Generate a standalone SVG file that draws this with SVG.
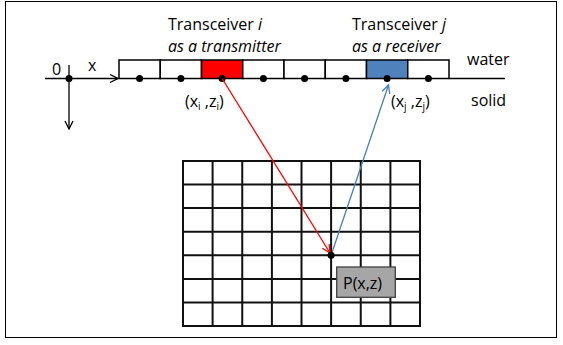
<svg xmlns="http://www.w3.org/2000/svg" width="563" height="345" viewBox="0 0 563 345">
<defs>
<style>
text{font-family:"Open Sans","Liberation Sans",sans-serif;font-size:16px;fill:#000}
.it{font-style:italic}
.cell{fill:#fff;stroke:#000;stroke-width:1.5}
.g{stroke:#111;stroke-width:2;fill:none}
.dot{fill:#000}
</style>
<marker id="ab" markerWidth="10" markerHeight="10" refX="9" refY="5" orient="auto" markerUnits="userSpaceOnUse"><path d="M1,1 L9,5 L1,9" fill="none" stroke="#000" stroke-width="1.3"/></marker>
<marker id="ar" markerWidth="10" markerHeight="10" refX="9" refY="5" orient="auto" markerUnits="userSpaceOnUse"><path d="M1,1 L9,5 L1,9" fill="none" stroke="#f00" stroke-width="1.3"/></marker>
<marker id="abl" markerWidth="10" markerHeight="10" refX="9" refY="5" orient="auto" markerUnits="userSpaceOnUse"><path d="M1,1 L9,5 L1,9" fill="none" stroke="#4a7ebb" stroke-width="1.3"/></marker>
</defs>
<rect x="5.5" y="1.5" width="551" height="336" fill="#fff" stroke="#000" stroke-width="1"/>
<g id="axes">
<line x1="45" y1="78.5" x2="118" y2="78.5" stroke="#000" stroke-width="1.3" marker-end="url(#ab)"/>
<line x1="69" y1="65" x2="69" y2="129" stroke="#000" stroke-width="1.3" marker-end="url(#ab)"/>
<circle class="dot" cx="69" cy="78.5" r="3.5"/>
<text x="52" y="75">0</text>
<text x="88" y="71">x</text>
</g>
<g id="interface">
<line x1="449" y1="78.5" x2="505" y2="78.5" stroke="#000" stroke-width="1.3"/>
<text x="467" y="65">water</text>
<text x="471" y="106">solid</text>
</g>
<g id="transducers">
<rect class="cell" x="119" y="60" width="41.25" height="18.5"/>
<rect class="cell" x="160.25" y="60" width="41.25" height="18.5"/>
<rect class="cell" x="201.5" y="60" width="41.25" height="18.5" style="fill:#f00"/>
<rect class="cell" x="242.75" y="60" width="41.25" height="18.5"/>
<rect class="cell" x="284" y="60" width="41.25" height="18.5"/>
<rect class="cell" x="325.25" y="60" width="41.25" height="18.5"/>
<rect class="cell" x="366.5" y="60" width="41.25" height="18.5" style="fill:#4f81bd"/>
<rect class="cell" x="407.75" y="60" width="41.25" height="18.5"/>
<circle class="dot" cx="139.6" cy="78.5" r="3.5"/>
<circle class="dot" cx="180.9" cy="78.5" r="3.5"/>
<circle class="dot" cx="222.1" cy="78.5" r="3.5"/>
<circle class="dot" cx="263.4" cy="78.5" r="3.5"/>
<circle class="dot" cx="304.6" cy="78.5" r="3.5"/>
<circle class="dot" cx="345.9" cy="78.5" r="3.5"/>
<circle class="dot" cx="387.1" cy="78.5" r="3.5"/>
<circle class="dot" cx="428.4" cy="78.5" r="3.5"/>
</g>
<g id="tx-label">
<text x="168" y="30">Transceiver <tspan class="it">i</tspan></text>
<text x="168" y="52" class="it">as a transmitter</text>
<text x="185" y="107">(x<tspan font-size="10" dy="3">i</tspan><tspan dy="-3"> ,z</tspan><tspan font-size="10" dy="3">i</tspan><tspan dy="-3">)</tspan></text>
</g>
<g id="rx-label">
<text x="352" y="30">Transceiver <tspan class="it">j</tspan></text>
<text x="352" y="52" class="it">as a receiver</text>
<text x="391" y="107">(x<tspan font-size="10" dy="3">j</tspan><tspan dy="-3"> ,z</tspan><tspan font-size="10" dy="3">j</tspan><tspan dy="-3">)</tspan></text>
</g>
<g id="grid">
<rect class="g" x="183" y="161" width="237" height="165"/>
<path class="g" d="M212.6,161V326M242.25,161V326M271.9,161V326M301.5,161V326M331.1,161V326M360.75,161V326M390.4,161V326M183,184.6H420M183,208.1H420M183,231.7H420M183,255.3H420M183,278.9H420M183,302.4H420"/>
</g>
<g id="connectors">
<line x1="222.1" y1="78.5" x2="330" y2="253" stroke="#f00" stroke-width="1.3" marker-end="url(#ar)"/>
<line x1="331.1" y1="255.3" x2="388.5" y2="85" stroke="#4a7ebb" stroke-width="1.3" marker-end="url(#abl)"/>
</g>
<g id="point">
<circle class="dot" cx="331.1" cy="255.3" r="3.5"/>
<rect x="336.7" y="267" width="58.6" height="30.3" fill="#a6a6a6" stroke="#404040" stroke-width="1.3"/>
<text x="343" y="288.5" font-size="16">P(x,z)</text>
</g>
</svg>
